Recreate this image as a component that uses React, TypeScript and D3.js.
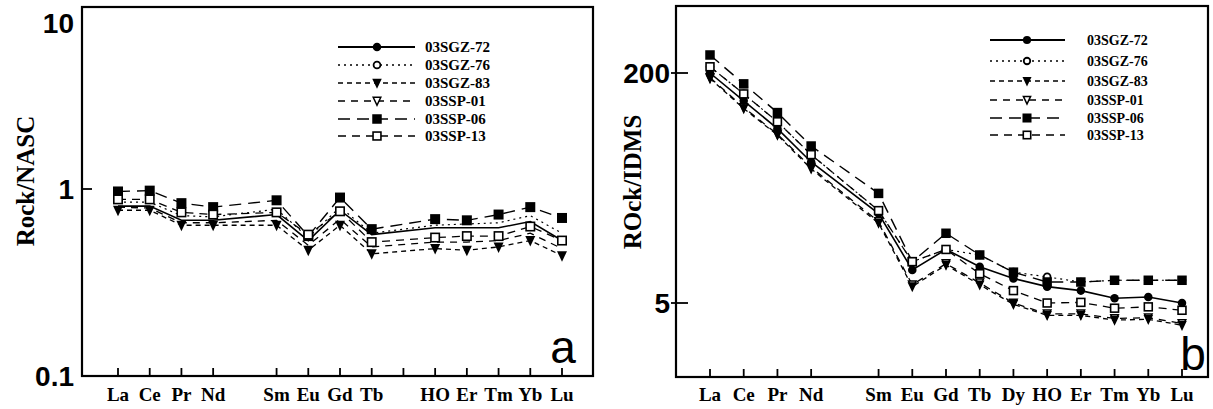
import React from "react";
import * as d3 from "d3";

// ---------- data ----------
const ELEMENTS = ["La", "Ce", "Pr", "Nd", "Pm", "Sm", "Eu", "Gd", "Tb", "Dy", "Ho", "Er", "Tm", "Yb", "Lu"];
const LABELS_A = ["La", "Ce", "Pr", "Nd", "", "Sm", "Eu", "Gd", "Tb", "", "HO", "Er", "Tm", "Yb", "Lu"];
const LABELS_B = ["La", "Ce", "Pr", "Nd", "", "Sm", "Eu", "Gd", "Tb", "Dy", "HO", "Er", "Tm", "Yb", "Lu"];
const SERIES = ["03SGZ-72", "03SGZ-76", "03SGZ-83", "03SSP-01", "03SSP-06", "03SSP-13"];

// Panel a: Rock/NASC
const A_SGZ72 = [0.81, 0.81, 0.68, 0.68, null, 0.73, 0.53, 0.77, 0.57, null, 0.62, 0.62, 0.62, 0.67, 0.53];
const A_SGZ76 = [0.85, 0.85, 0.72, 0.71, null, 0.78, 0.55, 0.8, 0.58, null, 0.64, 0.65, 0.66, 0.72, 0.58];
const A_SGZ83 = [0.77, 0.77, 0.64, 0.64, null, 0.64, 0.47, 0.64, 0.45, null, 0.48, 0.47, 0.49, 0.53, 0.44];
const A_SSP01 = [0.8, 0.79, 0.66, 0.66, null, 0.68, 0.5, 0.69, 0.49, null, 0.52, 0.52, 0.53, 0.58, 0.48];
const A_SSP06 = [0.97, 0.98, 0.84, 0.8, null, 0.87, 0.56, 0.9, 0.61, null, 0.69, 0.68, 0.73, 0.8, 0.7];
const A_SSP13 = [0.88, 0.88, 0.75, 0.73, null, 0.75, 0.57, 0.76, 0.52, null, 0.55, 0.56, 0.56, 0.63, 0.53];

// Panel b: ROck/IDMS
const B_SGZ72 = [200, 128, 82, 48, null, 21, 8.5, 11.8, 8.95, 7.4, 6.5, 6.1, 5.4, 5.5, 5.0];
const B_SGZ76 = [221, 143, 91.5, 54, null, 22, 9.7, 11.8, 10.8, 8.2, 7.6, 7.0, 7.2, 7.2, 7.2];
const B_SGZ83 = [183, 113, 74, 43, null, 18, 6.5, 9.2, 6.7, 4.9, 4.1, 4.1, 3.8, 3.85, 3.5];
const B_SSP01 = [186, 115, 75, 44, null, 18.5, 6.7, 9.4, 6.9, 5.0, 4.2, 4.2, 3.9, 3.95, 3.6];
const B_SSP06 = [267, 168, 106, 62, null, 29, 9.7, 15.3, 10.8, 8.2, 7.0, 7.0, 7.2, 7.2, 7.2];
const B_SSP13 = [221, 143, 91.5, 54, null, 22, 9.7, 11.8, 8.0, 6.1, 5.0, 5.05, 4.6, 4.7, 4.45];

const A_YTICKS = [0.1, 1, 10];
const B_YTICKS = [5, 200];

// ---------- styles ----------
const STYLES: Record<string, { marker: string; dash: string | null; width: number }> = {
  "03SGZ-72": { marker: "circleFilled", dash: null, width: 1.6 },
  "03SGZ-76": { marker: "circleOpen", dash: "2,4", width: 1.2 },
  "03SGZ-83": { marker: "triFilled", dash: "5,4", width: 1.3 },
  "03SSP-01": { marker: "triOpen", dash: "7,6", width: 1.3 },
  "03SSP-06": { marker: "squareFilled", dash: "12,7", width: 1.4 },
  "03SSP-13": { marker: "squareOpen", dash: "8,6", width: 1.3 },
};
const DRAW_ORDER = ["03SSP-01", "03SGZ-76", "03SGZ-72", "03SGZ-83", "03SSP-06", "03SSP-13"];

const SERIF = "'Liberation Serif', 'Times New Roman', serif";
const SANS = "'Liberation Sans', Arial, sans-serif";

function Marker({ type, x, y, s }: { type: string; x: number; y: number; s: number }) {
  const h = s / 2;
  switch (type) {
    case "circleFilled":
      return <circle cx={x} cy={y} r={s * 0.45} fill="#000" />;
    case "circleOpen":
      return <circle cx={x} cy={y} r={s * 0.36} fill="#fff" stroke="#000" strokeWidth={1.8} />;
    case "triFilled":
      return <path d={`M${x - h},${y - s * 0.45}L${x + h},${y - s * 0.45}L${x},${y + s * 0.6}Z`} fill="#000" />;
    case "triOpen":
      return (
        <path
          d={`M${x - h * 0.8},${y - s * 0.4}L${x + h * 0.8},${y - s * 0.4}L${x},${y + s * 0.45}Z`}
          fill="#fff"
          stroke="#000"
          strokeWidth={1.5}
        />
      );
    case "squareFilled":
      return <rect x={x - h} y={y - h} width={s} height={s} fill="#000" />;
    case "squareOpen":
      return <rect x={x - h + 0.8} y={y - h + 0.8} width={s - 1.6} height={s - 1.6} fill="#fff" stroke="#000" strokeWidth={1.6} />;
    default:
      return null;
  }
}

type PanelProps = {
  frame: { x0: number; y0: number; x1: number; y1: number };
  xRange: [number, number];
  yDomain: [number, number];
  yRange: [number, number];
  yTicks: number[];
  yTickLabelX: number;
  yTickInner: boolean;
  labels: string[];
  data: Record<string, (number | null)[]>;
  markers: string[];
  markerSize: number;
  title: string;
  titleX: number;
  titleY: number;
  legendX: [number, number, number];
  legendTextX: number;
  legendRowY: number[];
  legendFont: number;
  letter: string;
  letterX: number;
  letterY: number;
};

function Panel(p: PanelProps) {
  const x = d3.scalePoint<string>().domain(ELEMENTS).range(p.xRange);
  const y = d3.scaleLog().domain(p.yDomain).range(p.yRange);
  const { x0, y0, x1, y1 } = p.frame;
  const line = d3
    .line<{ e: string; v: number }>()
    .x((d) => x(d.e) as number)
    .y((d) => y(d.v));

  return (
    <g>
      <rect x={x0} y={y0} width={x1 - x0} height={y1 - y0} fill="none" stroke="#000" strokeWidth={2.2} />
      {ELEMENTS.map((e) =>
        e === "Pm" ? null : (
          <line key={"xt" + e} x1={x(e)} x2={x(e)} y1={y1} y2={y1 - 8} stroke="#000" strokeWidth={1.8} />
        )
      )}
      {ELEMENTS.map((e, i) =>
        p.labels[i] ? (
          <text
            key={"xl" + e}
            x={x(e)}
            y={401}
            textAnchor="middle"
            fontFamily={SERIF}
            fontWeight="bold"
            fontSize={19}
          >
            {p.labels[i]}
          </text>
        ) : null
      )}
      {p.yTicks.map((t) => {
        const yy = y(t);
        const inside = yy > y0 + 3 && yy < y1 - 3;
        const ly = Math.max(yy, y0 + 16);
        return (
          <g key={"yt" + t}>
            {inside && (
              <line
                x1={p.yTickInner ? x0 : x0 - 5}
                x2={x0 + (p.yTickInner ? 10 : 12)}
                y1={yy}
                y2={yy}
                stroke="#000"
                strokeWidth={1.8}
              />
            )}
            <text
              x={p.yTickLabelX}
              y={ly}
              dy="0.36em"
              textAnchor="end"
              fontFamily={SANS}
              fontWeight="bold"
              fontSize={28}
            >
              {String(t)}
            </text>
          </g>
        );
      })}
      <text
        transform={`translate(${p.titleX},${p.titleY}) rotate(-90)`}
        textAnchor="middle"
        dy="0.35em"
        fontFamily={SERIF}
        fontWeight="bold"
        fontSize={25}
      >
        {p.title}
      </text>
      {DRAW_ORDER.map((name) => {
        const st = STYLES[name];
        const pts = ELEMENTS.map((e, i) => ({ e, v: p.data[name][i] as number })).filter((d) => d.v != null);
        return (
          <path
            key={"l" + name}
            d={line(pts) || ""}
            fill="none"
            stroke="#000"
            strokeWidth={st.width}
            strokeDasharray={st.dash || undefined}
          />
        );
      })}
      {DRAW_ORDER.filter((n) => p.markers.includes(n)).map((name) => {
        const st = STYLES[name];
        return (
          <g key={"m" + name}>
            {ELEMENTS.map((e, i) => {
              const v = p.data[name][i];
              if (v == null) return null;
              return <Marker key={e} type={st.marker} x={x(e) as number} y={y(v)} s={p.markerSize} />;
            })}
          </g>
        );
      })}
      {SERIES.map((name, i) => {
        const st = STYLES[name];
        const ly = p.legendRowY[i];
        return (
          <g key={"lg" + name}>
            <line
              x1={p.legendX[0]}
              x2={p.legendX[2]}
              y1={ly}
              y2={ly}
              stroke="#000"
              strokeWidth={st.width + 0.3}
              strokeDasharray={st.dash || undefined}
            />
            <Marker type={st.marker} x={p.legendX[1]} y={ly} s={p.markerSize * 0.95} />
            <text
              x={p.legendTextX}
              y={ly}
              dy="0.35em"
              fontFamily={SERIF}
              fontWeight="bold"
              fontSize={p.legendFont}
            >
              {name}
            </text>
          </g>
        );
      })}
      <text x={p.letterX} y={p.letterY} fontFamily={SANS} fontSize={46} textAnchor="middle">
        {p.letter}
      </text>
    </g>
  );
}

export default function App() {
  const dataA: Record<string, (number | null)[]> = {
    "03SGZ-72": A_SGZ72,
    "03SGZ-76": A_SGZ76,
    "03SGZ-83": A_SGZ83,
    "03SSP-01": A_SSP01,
    "03SSP-06": A_SSP06,
    "03SSP-13": A_SSP13,
  };
  const dataB: Record<string, (number | null)[]> = {
    "03SGZ-72": B_SGZ72,
    "03SGZ-76": B_SGZ76,
    "03SGZ-83": B_SGZ83,
    "03SSP-01": B_SSP01,
    "03SSP-06": B_SSP06,
    "03SSP-13": B_SSP13,
  };
  return (
    <svg
      width={1213}
      height={409}
      viewBox="0 0 1213 409"
      style={{ position: "absolute", left: 0, top: 0, background: "#fff" }}
    >
      <rect x={0} y={0} width={1213} height={409} fill="#fff" />
      <Panel
        frame={{ x0: 82, y0: 7, x1: 593, y1: 376 }}
        xRange={[118, 562]}
        yDomain={[0.1, 10]}
        yRange={[376, 2]}
        yTicks={A_YTICKS}
        yTickLabelX={74}
        yTickInner={true}
        labels={LABELS_A}
        data={dataA}
        markers={["03SGZ-83", "03SSP-06", "03SSP-13"]}
        markerSize={10}
        title="Rock/NASC"
        titleX={25}
        titleY={181}
        legendX={[338, 377, 415]}
        legendTextX={425}
        legendRowY={[47, 65, 83, 101, 119, 136]}
        legendFont={15}
        letter="a"
        letterX={563}
        letterY={363}
      />
      <Panel
        frame={{ x0: 676, y0: 6, x1: 1208, y1: 377 }}
        xRange={[710, 1182]}
        yDomain={[5, 200]}
        yRange={[303, 73]}
        yTicks={B_YTICKS}
        yTickLabelX={670}
        yTickInner={false}
        labels={LABELS_B}
        data={dataB}
        markers={SERIES}
        markerSize={9.5}
        title="ROck/IDMS"
        titleX={632}
        titleY={182}
        legendX={[990, 1027, 1065]}
        legendTextX={1087}
        legendRowY={[40, 61, 81, 100, 118, 135]}
        legendFont={14}
        letter="b"
        letterX={1193}
        letterY={370}
      />
    </svg>
  );
}
